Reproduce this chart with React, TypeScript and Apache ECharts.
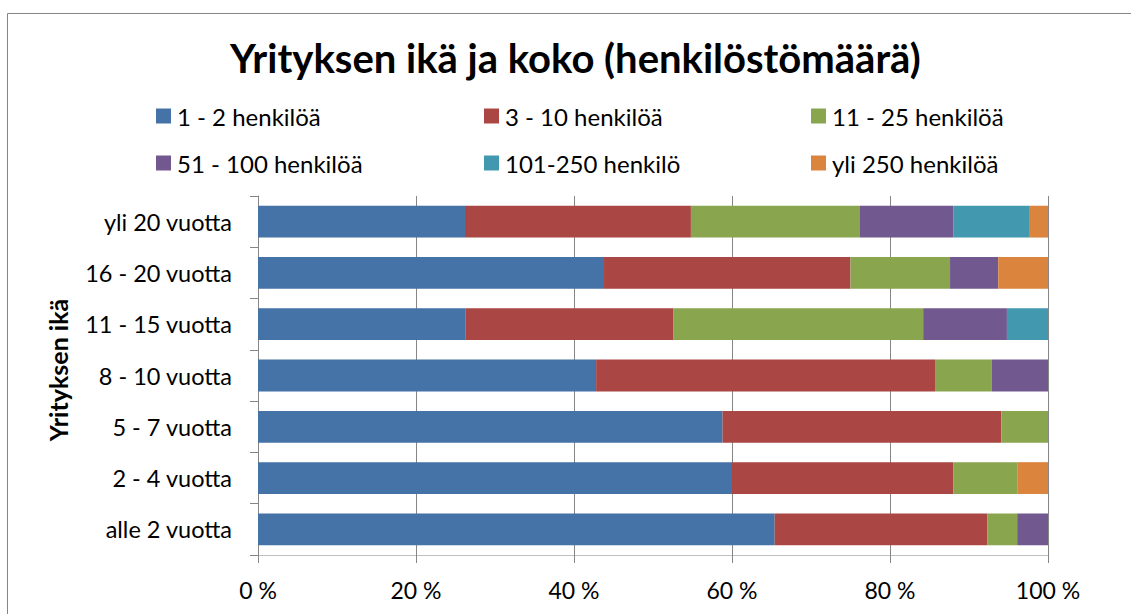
import React, { useEffect, useRef } from "react";
import * as echarts from "echarts";

const categories = [
  "alle 2 vuotta",
  "2 - 4 vuotta",
  "5 - 7 vuotta",
  "8 - 10 vuotta",
  "11 - 15 vuotta",
  "16 - 20 vuotta",
  "yli 20 vuotta",
];

const seriesNames = [
  "1 - 2 henkilöä",
  "3 - 10 henkilöä",
  "11 - 25 henkilöä",
  "51 - 100 henkilöä",
  "101-250 henkilö",
  "yli 250 henkilöä",
];

const s1 = [65.4, 60.0, 58.8, 42.8, 26.3, 43.8, 26.2];
const s2 = [26.9, 28.0, 35.3, 42.9, 26.3, 31.2, 28.6];
const s3 = [3.8, 8.1, 5.9, 7.2, 31.6, 12.6, 21.4];
const s4 = [3.9, 0, 0, 7.1, 10.6, 6.1, 11.8];
const s5 = [0, 0, 0, 0, 5.2, 0, 9.7];
const s6 = [0, 3.9, 0, 0, 0, 6.3, 2.3];

const seriesValues = [s1, s2, s3, s4, s5, s6];
const colors = ["#4572A7", "#AA4643", "#89A54E", "#71588F", "#4198AF", "#DB843D"];

const FONT = "Lato, 'Open Sans', sans-serif";

export default function App() {
  const ref = useRef<HTMLDivElement>(null);
  useEffect(() => {
    if (!ref.current) return;
    const chart = echarts.init(ref.current, null, { renderer: "svg" });
    const legendCols = [156, 484, 811];
    const legendRows = [104, 151];
    const legends = seriesNames.map((name, i) => ({
      data: [name],
      left: legendCols[i % 3],
      top: legendRows[Math.floor(i / 3)],
      itemWidth: 15,
      itemHeight: 15,
      itemGap: 0,
      padding: 0,
      icon: "rect",
      textStyle: { fontFamily: FONT, fontSize: 24, color: "#000", padding: [0, 0, 0, 1] },
      selectedMode: false,
    }));
    chart.setOption({
      animation: false,
      color: colors,
      title: {
        text: "Yrityksen ikä ja koko (henkilöstömäärä)",
        left: 230,
        top: 38,
        padding: 0,
        textStyle: { fontFamily: FONT, fontSize: 40, fontWeight: "bold", color: "#000" },
      },
      legend: legends,
      grid: { left: 258, right: 83, top: 196, bottom: 59, containLabel: false },
      xAxis: {
        type: "value",
        min: 0,
        max: 100,
        interval: 20,
        axisLabel: {
          formatter: "{value} %",
          fontFamily: FONT,
          fontSize: 23,
          color: "#000",
          margin: 23,
        },
        axisLine: { show: true, lineStyle: { color: "#bfbfbf", width: 1 } },
        axisTick: { show: true, length: 8, lineStyle: { color: "#868686" } },
        splitLine: { show: true, lineStyle: { color: "#868686", width: 1 } },
      },
      yAxis: {
        type: "category",
        data: categories,
        axisLabel: { fontFamily: FONT, fontSize: 23.5, color: "#000", margin: 26 },
        axisLine: { show: true, lineStyle: { color: "#868686" } },
        axisTick: { show: true, length: 8, lineStyle: { color: "#868686" } },
      },
      graphic: [
        {
          type: "rect",
          shape: { x: 7.5, y: 13.5, width: 1200, height: 700 },
          style: { fill: "none", stroke: "#868686", lineWidth: 1 },
          silent: true,
          z: -1,
        },
        {
          type: "text",
          x: 58,
          y: 370,
          rotation: Math.PI / 2,
          style: {
            text: "Yrityksen ikä",
            fontFamily: FONT,
            fontSize: 25,
            fontWeight: "bold",
            fill: "#000",
            align: "center",
            verticalAlign: "middle",
          },
        },
      ],
      series: seriesNames.map((name, i) => ({
        name,
        type: "bar",
        stack: "total",
        barCategoryGap: "38%",
        data: seriesValues[i],
        itemStyle: { color: colors[i] },
      })),
    });
    return () => chart.dispose();
  }, []);
  return (
    <div
      ref={ref}
      style={{ position: "fixed", left: 0, top: 0, width: 1131, height: 614, background: "#fff" }}
    />
  );
}
